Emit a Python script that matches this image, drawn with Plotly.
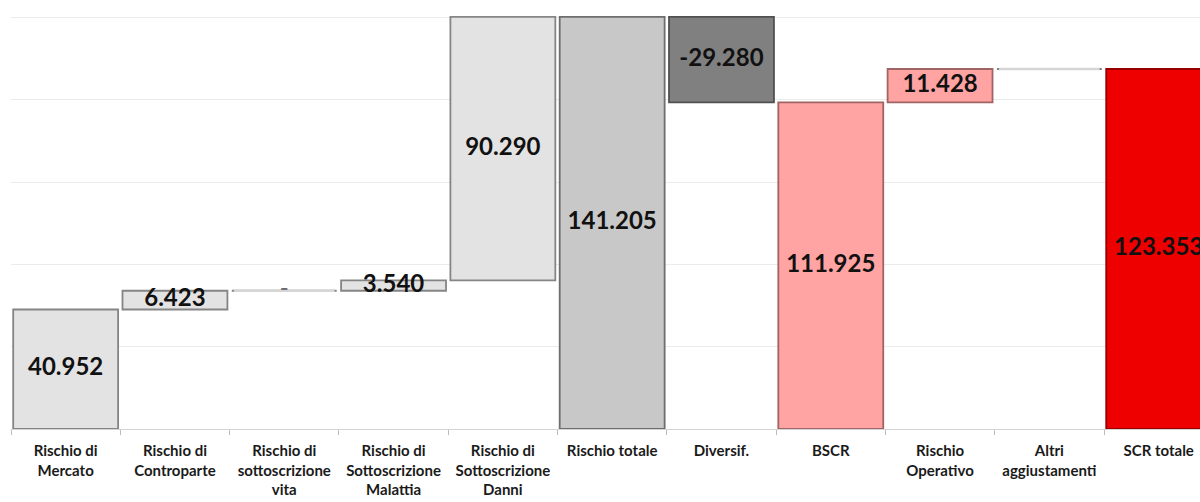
import plotly.graph_objects as go

# Waterfall of the solvency capital requirement (SCR) build-up
categories = [
    "Rischio di<br>Mercato",
    "Rischio di<br>Controparte",
    "Rischio di<br>sottoscrizione<br>vita",
    "Rischio di<br>Sottoscrizione<br>Malattia",
    "Rischio di<br>Sottoscrizione<br>Danni",
    "Rischio totale",
    "Diversif.",
    "BSCR",
    "Rischio<br>Operativo",
    "Altri<br>aggiustamenti",
    "SCR totale",
]
values = [40952, 6423, 0, 3540, 90290, 141205, -29280, 111925, 11428, 0, 123353]
measures = ["relative", "relative", "relative", "relative", "relative", "total",
            "relative", "total", "relative", "relative", "total"]
# categories whose value is not printed on the chart
unlabelled = ["Altri<br>aggiustamenti"]

# styling per category
fill_colors = ["#e3e3e3", "#e3e3e3", "#e3e3e3", "#e3e3e3", "#e3e3e3", "#c8c8c8",
               "#808080", "#ffa3a3", "#ffa3a3", "#e3e3e3", "#ee0000"]
edge_colors = ["#858585", "#858585", "#858585", "#858585", "#858585", "#6e6e6e",
               "#505050", "#a06464", "#a06464", "#858585", "#960000"]

FONT = "Lato"


def fmt_it(v):
    if v == 0:
        return "-"
    return f"{v:,}".replace(",", ".")


# stack the steps: totals start from zero, relative steps float on the running sum
bases, heights, levels = [], [], []
running = 0
for v, m in zip(values, measures):
    if m == "total":
        running = v
        bases.append(0)
        heights.append(v)
    else:
        bases.append(running if v >= 0 else running + v)
        heights.append(abs(v))
        running += v
    levels.append(running)

mids = [b + h / 2 for b, h in zip(bases, heights)]
texts = ["" if c in unlabelled else fmt_it(v) for c, v in zip(categories, values)]

X_RANGE = [-0.5, 10.378]
Y_MAX = 147000

fig = go.Figure()

fig.add_trace(go.Bar(
    x=categories, y=heights, base=bases, width=0.96,
    marker=dict(color=fill_colors, line=dict(color=edge_colors, width=1.8)),
    hoverinfo="skip", showlegend=False,
))

# zero-value steps drawn as a flat connector at the running level
for i, (h, lvl) in enumerate(zip(heights, levels)):
    if h == 0:
        fig.add_trace(go.Scatter(
            x=[i - 0.46, i + 0.46], y=[lvl, lvl], xaxis="x2", mode="lines",
            line=dict(color="#d6d6d6", width=2.5),
            hoverinfo="skip", showlegend=False,
        ))

fig.add_trace(go.Scatter(
    x=categories, y=mids, text=texts, mode="text",
    textfont=dict(family=FONT, size=24, color="#111111", weight="bold"),
    hoverinfo="skip", showlegend=False, cliponaxis=False,
))

fig.update_layout(
    width=1200, height=502,
    margin=dict(l=11, r=0, t=0, b=73),
    paper_bgcolor="white", plot_bgcolor="white",
    bargap=0.04,
    xaxis=dict(
        type="category", range=X_RANGE, showgrid=False,
        showline=True, linecolor="#d4d4d4", linewidth=1,
        ticks="outside", tickson="boundaries", ticklen=5, tickcolor="#bdbdbd",
        ticklabelstandoff=8,
        tickfont=dict(family=FONT, size=15, color="#1a1a1a", weight="bold"),
        zeroline=False,
    ),
    xaxis2=dict(overlaying="x", range=X_RANGE, visible=False),
    yaxis=dict(
        range=[0, Y_MAX], tick0=0, dtick=28200, showticklabels=False,
        showgrid=True, gridcolor="#ebebeb", gridwidth=1, zeroline=False,
    ),
)

fig.write_html("out.html")
